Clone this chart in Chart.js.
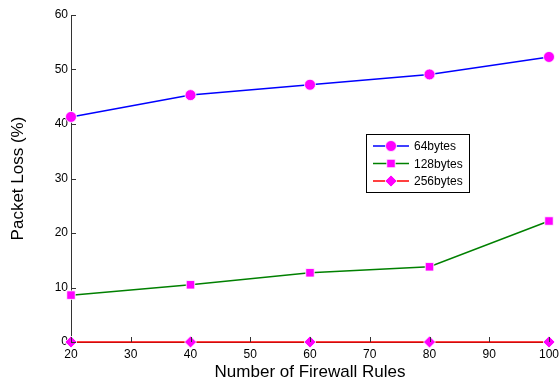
<!DOCTYPE html>
<html>
<head>
<meta charset="utf-8">
<script src="https://cdn.jsdelivr.net/npm/chart.js@4.4.1/dist/chart.umd.min.js"></script>
<style>
  html, body { margin: 0; padding: 0; background: #fff; }
  #wrap { width: 559px; height: 383px; position: relative; }
</style>
</head>
<body>
<div id="wrap"><canvas id="c"></canvas></div>
<script>
// data
const firewallRules = [20, 40, 60, 80, 100];
const loss64 = [41.3, 45.3, 47.2, 49.1, 52.3];
const loss128 = [8.6, 10.5, 12.7, 13.8, 22.2];
const loss256 = [0, 0, 0, 0, 0];
const seriesNames = ['64bytes', '128bytes', '256bytes'];

const FONT = '"Liberation Sans", Arial, Helvetica, sans-serif';

// inward tick marks, like the original plot
const innerTicks = {
    id: 'innerTicks',
    afterDraw(chart) {
        const { ctx, chartArea, scales } = chart;
        ctx.save();
        ctx.strokeStyle = '#333';
        ctx.lineWidth = 1;
        scales.y.ticks.forEach(t => {
            const y = Math.round(scales.y.getPixelForValue(t.value)) + 0.5;
            ctx.beginPath();
            ctx.moveTo(chartArea.left, y);
            ctx.lineTo(chartArea.left + 5, y);
            ctx.stroke();
        });
        scales.x.ticks.forEach(t => {
            const x = Math.round(scales.x.getPixelForValue(t.value)) + 0.5;
            ctx.beginPath();
            ctx.moveTo(x, chartArea.bottom);
            ctx.lineTo(x, chartArea.bottom - 5);
            ctx.stroke();
        });
        ctx.restore();
    }
};

// boxed legend inside the plot
const boxLegend = {
    id: 'boxLegend',
    afterDraw(chart) {
        const { ctx } = chart;
        const x0 = 366, y0 = 134, w = 103, h = 58;
        ctx.save();
        ctx.fillStyle = '#fff';
        ctx.fillRect(x0, y0, w, h);
        ctx.strokeStyle = '#000';
        ctx.lineWidth = 1;
        ctx.strokeRect(x0 + 0.5, y0 + 0.5, w, h);
        ctx.font = '12px ' + FONT;
        ctx.textBaseline = 'middle';
        chart.data.datasets.forEach((ds, i) => {
            const y = y0 + 12 + i * 17.5;
            ctx.strokeStyle = ds.borderColor;
            ctx.lineWidth = 1.5;
            ctx.beginPath();
            ctx.moveTo(373, y);
            ctx.lineTo(409, y);
            ctx.stroke();
            ctx.fillStyle = ds.pointBackgroundColor;
            ctx.strokeStyle = ds.pointBorderColor;
            ctx.lineWidth = ds.pointBorderWidth;
            Chart.helpers.drawPoint(ctx, {
                pointStyle: ds.pointStyle,
                radius: ds.pointRadius,
                borderWidth: ds.pointBorderWidth,
                rotation: 0
            }, 391, y);
            ctx.fillStyle = '#000';
            ctx.fillText(ds.label, 414, y + 1);
        });
        ctx.restore();
    }
};

function series(label, data, color, style, radius) {
    return {
        label, data,
        borderColor: color,
        borderWidth: 1.5,
        pointStyle: style,
        pointRadius: radius,
        pointBackgroundColor: '#ff00ff',
        pointBorderColor: '#ffffff',
        pointBorderWidth: 0.8,
        tension: 0,
        clip: false
    };
}

new Chart(document.getElementById('c'), {
    type: 'line',
    data: {
        labels: firewallRules,
        datasets: [
            series(seriesNames[0], loss64, '#0000ff', 'circle', 5.5),
            series(seriesNames[1], loss128, '#008000', 'rect', 6),
            series(seriesNames[2], loss256, '#ff0000', 'rectRot', 6)
        ]
    },
    plugins: [innerTicks, boxLegend],
    options: {
        responsive: true,
        maintainAspectRatio: false,
        animation: false,
        layout: { padding: { top: 15, right: 10, left: 0, bottom: 0 } },
        plugins: { legend: { display: false }, tooltip: { enabled: false } },
        scales: {
            x: {
                type: 'linear',
                min: 20, max: 100,
                ticks: { stepSize: 10, color: '#000', font: { family: FONT, size: 12 }, padding: 5 },
                grid: { display: true, drawOnChartArea: false, drawTicks: false },
                border: { display: true, color: '#333' },
                title: { display: true, text: 'Number of Firewall Rules', color: '#000', font: { family: FONT, size: 17 }, padding: { top: 0, bottom: 0 } },
                afterFit(s) { s.height = 41; s.paddingLeft = 0; s.paddingRight = 0; }
            },
            y: {
                min: 0, max: 60,
                ticks: { stepSize: 10, color: '#000', font: { family: FONT, size: 12 }, padding: 3 },
                grid: { display: true, drawOnChartArea: false, drawTicks: false },
                border: { display: true, color: '#333' },
                title: { display: true, text: 'Packet Loss (%)', color: '#000', font: { family: FONT, size: 17 }, padding: { top: 8, bottom: 0 } },
                afterFit(s) { s.width = 71; s.paddingTop = 0; s.paddingBottom = 0; }
            }
        }
    }
});
</script>
</body>
</html>
